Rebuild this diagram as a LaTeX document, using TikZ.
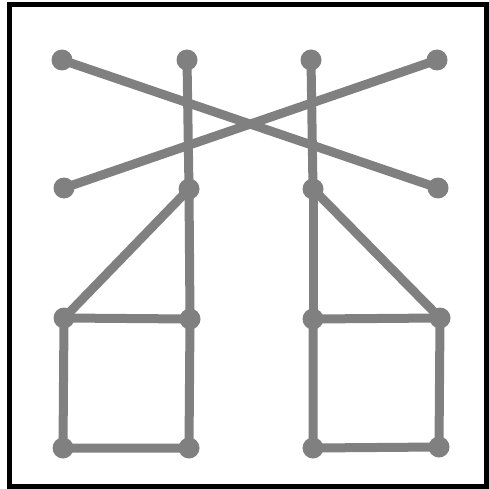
\documentclass[tikz,border=0pt]{standalone}
\begin{document}
\begin{tikzpicture}[x=1pt,y=-1pt,
  dot/.style={circle,fill=black!50,inner sep=0pt,minimum size=21pt},
  edge/.style={draw=black!50,line width=9pt}]
\useasboundingbox (0,0) rectangle (489,489);
\fill[white] (0,0) rectangle (489,489);
\draw[line width=5pt] (9.5,4.5) rectangle (486.5,486);
\coordinate (a1) at (62,60);
\coordinate (a2) at (187,60);
\coordinate (a3) at (311,60);
\coordinate (a4) at (437,60);
\coordinate (b1) at (64,188);
\coordinate (b2) at (189,189);
\coordinate (b3) at (313,189);
\coordinate (b4) at (438,188);
\coordinate (c1) at (64,318);
\coordinate (c2) at (190,319);
\coordinate (c3) at (313,319);
\coordinate (c4) at (440,318);
\coordinate (d1) at (63,448);
\coordinate (d2) at (189,448);
\coordinate (d3) at (313,448);
\coordinate (d4) at (439,447);
\draw[edge] (a1) -- (b4);
\draw[edge] (a4) -- (b1);
\draw[edge] (a2) -- (b2);
\draw[edge] (a3) -- (b3);
\draw[edge] (b2) -- (c1);
\draw[edge] (b3) -- (c4);
\draw[edge] (b2) -- (c2);
\draw[edge] (b3) -- (c3);
\draw[edge] (c1) -- (c2) -- (d2) -- (d1) -- cycle;
\draw[edge] (c3) -- (c4) -- (d4) -- (d3) -- cycle;
\foreach \n in {a1,a2,a3,a4,b1,b2,b3,b4,c1,c2,c3,c4,d1,d2,d3,d4}
  \node[dot] (n\n) at (\n) {};
\end{tikzpicture}
\end{document}
